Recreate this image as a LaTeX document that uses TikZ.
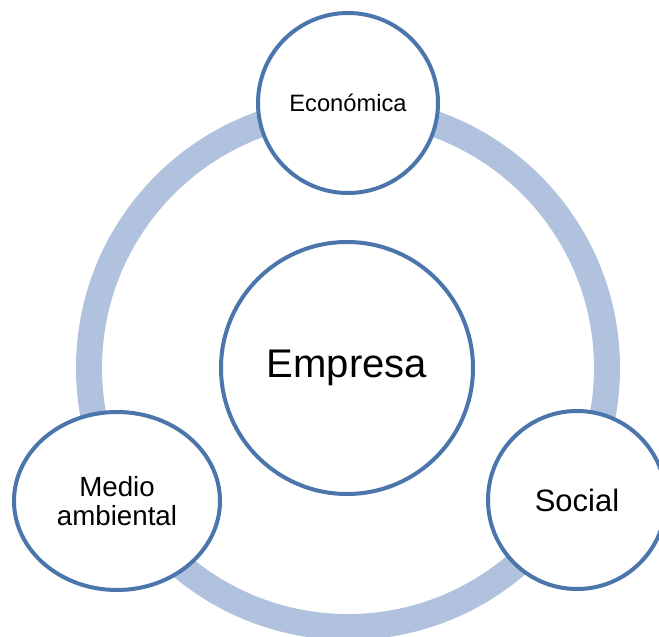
\documentclass[tikz,border=0pt]{standalone}
\usepackage{fontspec}
\setmainfont{Liberation Sans}
\usepackage{tikz}
\usetikzlibrary{shapes.geometric}
\definecolor{ringblue}{HTML}{B0C2DE}
\definecolor{edgeblue}{HTML}{4A76AC}
\tikzset{
  pillar/.style={circle,draw=edgeblue,line width=4pt,fill=white,inner sep=0pt,align=center},
  pillaroval/.style={ellipse,draw=edgeblue,line width=4pt,fill=white,inner sep=0pt,align=center}
}

\begin{document}
\begin{tikzpicture}[x=1pt,y=-1pt]
            \clip (0,0) rectangle (659,637);
            \draw[ringblue,line width=26pt] (348,368) circle (259pt);
            \node[pillar,minimum size=252pt,font=\fontsize{40}{48}\selectfont] (empresa) at (347,368) {Empresa};
            \node[pillar,minimum size=180pt,font=\fontsize{23.7}{28}\selectfont] (economica) at (348,103) {Económica};
            \node[pillaroval,minimum width=206pt,minimum height=178pt,font=\fontsize{27.7}{29}\selectfont] (medio) at (117,501) {Medio\\ambiental};
            \node[pillar,minimum size=178pt,font=\fontsize{31}{37}\selectfont] (social) at (577,500) {Social};
        \end{tikzpicture}
\end{document}
